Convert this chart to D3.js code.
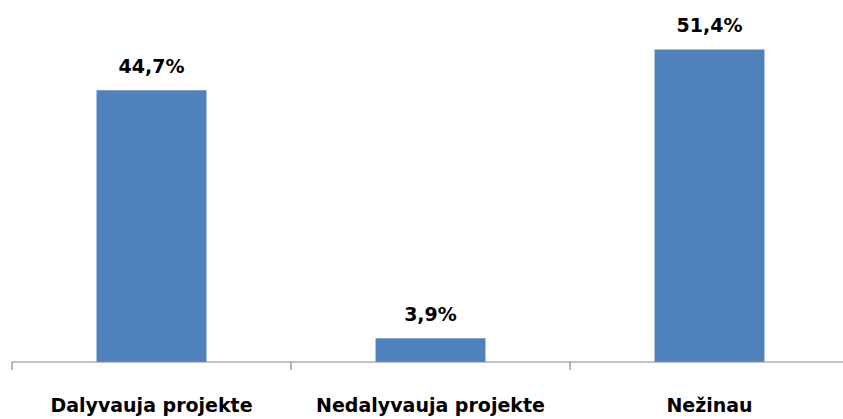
<!DOCTYPE html>
<html>
<head>
<meta charset="utf-8">
<script src="https://cdn.jsdelivr.net/npm/d3@7/dist/d3.min.js"></script>
<style>
  body { margin: 0; background: #fff; }
  text { font-family: "DejaVu Sans", Verdana, sans-serif; font-weight: bold; fill: #000; }
</style>
</head>
<body>
<script>
let categories = ["Dalyvauja projekte", "Nedalyvauja projekte", "Nežinau"];
let values = [44.7, 3.9, 51.4];
let valueLabels = ["44,7%", "3,9%", "51,4%"];

let width = 843,
  height = 419,
  baseY = 362,
  barRatio = 0.394;

let svg = d3.select("body").append("svg")
  .attr("width", width)
  .attr("height", height);

let x = d3.scaleBand()
  .domain(categories)
  .range([12, 849])
  .padding(0);

let y = d3.scaleLinear()
  .domain([0, 51.4])
  .range([baseY, 49.5]);

let barW = x.bandwidth() * barRatio;

// bars
svg.selectAll("rect.bar")
  .data(values)
  .enter()
  .append("rect")
  .attr("class", "bar")
  .attr("x", (d, i) => x(categories[i]) + (x.bandwidth() - barW) / 2)
  .attr("y", d => y(d))
  .attr("width", barW)
  .attr("height", d => baseY - y(d))
  .attr("fill", "#4F81BD");

// value labels
svg.selectAll("text.val")
  .data(values)
  .enter()
  .append("text")
  .attr("class", "val")
  .attr("x", (d, i) => x(categories[i]) + x.bandwidth() / 2)
  .attr("y", d => y(d) - 17.5)
  .attr("text-anchor", "middle")
  .style("font-size", "19px")
  .text((d, i) => valueLabels[i]);

// x axis
let axis = svg.append("g")
  .attr("transform", "translate(0," + baseY + ")");
axis.append("line")
  .attr("x1", 12).attr("x2", width)
  .attr("stroke", "#878787").attr("stroke-width", 1.2);
let edges = categories.map(c => x(c)).concat([x(categories[2]) + x.bandwidth()]);
axis.selectAll("line.tick")
  .data(edges)
  .enter()
  .append("line")
  .attr("class", "tick")
  .attr("x1", d => d).attr("x2", d => d)
  .attr("y1", 0).attr("y2", 8)
  .attr("stroke", "#878787").attr("stroke-width", 1.2);

svg.selectAll("text.cat")
  .data(categories)
  .enter()
  .append("text")
  .attr("class", "cat")
  .attr("x", d => x(d) + x.bandwidth() / 2)
  .attr("y", 411.7)
  .attr("text-anchor", "middle")
  .style("font-size", "19px")
  .text(d => d);
</script>
</body>
</html>
